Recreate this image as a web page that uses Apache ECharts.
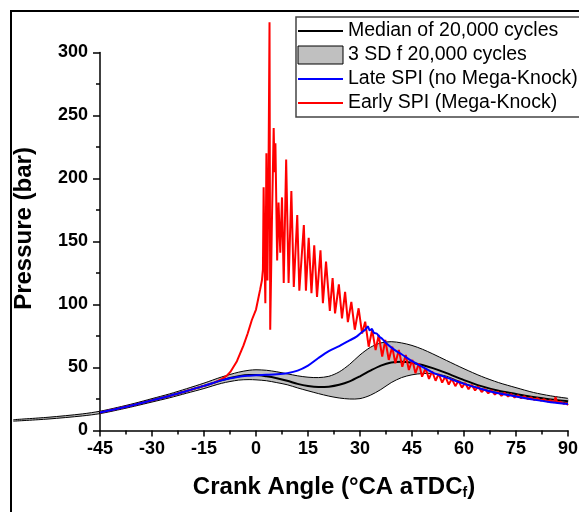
<!DOCTYPE html>
<html>
<head>
<meta charset="utf-8">
<script src="https://cdn.jsdelivr.net/npm/echarts@6/dist/echarts.min.js"></script>
<style>html,body{margin:0;padding:0;background:#fff}#c{width:579px;height:512px}</style>
</head>
<body>
<div id="c"></div>
<script>
// Crank angle grid for median / 3 SD band
const bandCA = [-70,-60,-50,-45,-40,-35,-30,-25,-20,-15,-10,-5,-2,0,3,6,9,12,15,18,21,24,27,30,33,36,39,42,45,48,51,55,60,65,70,75,80,85,90];
const medianP = [8.0,9.8,12.4,14.3,17.2,20.4,23.9,27.4,31.4,35.4,39.8,43.0,44.0,44.0,43.0,41.5,39.5,37.0,35.3,34.5,34.8,36.3,39.0,43.0,47.5,51.5,54.0,54.6,53.8,52.0,49.5,45.5,40.0,35.2,31.5,29.0,26.5,24.7,23.3];
const upperP = [8.6,10.5,13.2,15.3,18.3,21.6,25.3,29.0,33.2,37.6,42.4,46.3,47.8,48.2,47.8,46.6,45.0,43.4,42.3,42.0,43.0,46.5,52.5,60.0,66.0,69.5,70.5,69.5,67.5,64.5,60.8,55.5,49.0,43.0,38.0,34.0,30.2,27.5,25.5];
const lowerP = [7.4,9.1,11.6,13.4,16.2,19.3,22.6,25.9,29.6,33.3,37.4,40.0,40.4,40.2,39.5,38.0,36.3,33.8,31.5,29.3,27.3,25.8,25.0,25.3,28.0,32.5,38.0,42.0,44.2,45.2,45.2,43.0,37.5,33.2,30.0,27.5,25.0,23.2,22.0];

// Late SPI (no Mega-Knock): [crank angle, pressure]
const lateSPI = [[-45,14.3],[-40,17.2],[-35,20.4],[-30,23.9],[-25,27.4],[-20,31.4],[-15,35.4],[-10,39.8],[-5,42.6],[-2,43.5],[0,43.9],[3,44.2],[6,44.6],[9,45.5],[12,47.5],[15,51.5],[18,57.5],[21,63],[24,67],[27,71.5],[29,74.5],[30.5,78],[31.5,80],[32.3,82.5],[32.8,79.5],[33.4,80.5],[34,77.5],[34.8,77],[35.6,74.5],[36.5,72.5],[37.5,69.5],[39,66],[40.5,63],[42,60.5],[45,55],[48,50.5],[51,46],[55,42],[60,37],[65,33],[70,29.5],[75,27],[80,24.5],[85,22.5],[90,21]];

// Early SPI (Mega-Knock): [crank angle, pressure]
const earlySPI = [[-45,14.3],[-40,17.2],[-35,20.4],[-30,23.9],[-25,27.4],[-20,31.4],[-15,35.4],[-12,38.0],[-9.8,41.0],[-8.5,43.3],[-7.4,46.5],[-5.5,55],[-3.6,67.5],[-2.4,77],[-1.2,87.7],[0,96],[0.6,104],[1.2,112],[1.7,119],[2.0,128],[2.2,193],[2.5,130],[2.7,101],[3.0,220],[3.3,119],[3.6,200],[3.9,324],[4.1,80],[4.6,167],[5.1,240],[5.35,205],[5.6,228],[6.1,135],[6.5,181],[7.0,141],[7.5,185],[8.0,117],[8.7,215],[9.4,117],[10.2,190],[10.9,114],[11.9,171],[12.5,111],[13.8,163],[14.4,111],[15.2,153],[16.0,109],[16.8,147],[17.6,106],[18.6,143],[19.3,101],[20.2,134],[21.3,95],[22.1,121],[22.8,93],[23.9,116],[24.8,89],[25.7,110],[26.5,86],[27.5,102],[28.5,80],[29.6,97],[30.6,77],[31.5,86.4],[32.5,66.5],[33.5,79.8],[34.5,63.9],[35.4,75.8],[36.4,58.6],[37.3,71.8],[38.3,56],[39.3,66.5],[40.2,53.3],[41.2,63.9],[42.2,50.6],[43.2,59.9],[44.1,48],[45.1,56],[46.0,45.4],[47.0,53.3],[47.9,42.7],[48.9,49.4],[49.9,41.0],[50.8,47.0],[51.8,39.5],[52.7,45.0],[53.7,38.0],[54.6,43.0],[55.6,36.5],[56.5,41.0],[57.5,35.2],[58.4,39.5],[59.4,34.0],[60.3,37.8],[61.3,32.8],[62.2,36.3],[63.2,31.8],[64.1,35.0],[65.1,30.5],[66.0,33.0],[67.0,29.5],[67.9,32.0],[68.9,28.5],[69.8,30.8],[70.8,27.6],[71.7,30.0],[72.7,26.9],[73.6,29.0],[74.6,26.2],[75.5,28.0],[76.5,25.6],[77.4,27.2],[78.4,25.0],[79.3,26.3],[80.3,24.3],[81.2,25.6],[82.2,23.7],[83.1,24.8],[84.1,23.0],[85.0,24.0],[86.0,22.4],[86.4,26.5],[86.9,22.0],[87.9,22.8],[88.8,21.2],[89.5,21.8],[90.0,20.2]];

const xTicks = {min: -45, max: 90, step: 15};
const yTicks = {min: 0, max: 300, step: 50};

const names = ['Median of 20,000 cycles', '3 SD f 20,000 cycles', 'Late SPI (no Mega-Knock)', 'Early SPI (Mega-Knock)'];

const FONT = 'Liberation Sans, Arial, Helvetica, sans-serif';
const bandData = bandCA.map((x, i) => [x, lowerP[i], upperP[i]]);
const medianData = bandCA.map((x, i) => [x, medianP[i]]);

function renderBand(params, api) {
  if (params.dataIndex !== 0) return null;
  const up = bandCA.map((x, i) => api.coord([x, upperP[i]]));
  const lo = bandCA.map((x, i) => api.coord([x, lowerP[i]]));
  const poly = up.concat(lo.slice().reverse());
  return {
    type: 'group',
    children: [
      {type: 'polygon', shape: {points: poly, smooth: 0.3}, style: {fill: '#c0c0c0', stroke: null}},
      {type: 'polyline', shape: {points: up, smooth: 0.3}, style: {fill: null, stroke: '#000', lineWidth: 1}},
      {type: 'polyline', shape: {points: lo, smooth: 0.3}, style: {fill: null, stroke: '#000', lineWidth: 1}}
    ]
  };
}

const chart = echarts.init(document.getElementById('c'), null, {renderer: 'canvas'});
chart.setOption({
  animation: false,
  backgroundColor: '#fff',
  graphic: [{
    type: 'rect', z: -10, silent: true,
    shape: {x: 11, y: 11, width: 700, height: 700},
    style: {fill: null, stroke: '#000', lineWidth: 2}
  }],
  grid: {left: 100, right: 11, top: 52.5, bottom: 81.5, containLabel: false, outerBoundsMode: 'none'},
  legend: {
    orient: 'vertical', left: 296, top: 17,
    padding: [4, 12, 4, 1],
    itemWidth: 45, itemHeight: 18, itemGap: 4,
    borderColor: '#444', borderWidth: 1.5, backgroundColor: '#fff',
    textStyle: {fontFamily: FONT, fontSize: 19.5, color: '#000'},
    selectedMode: false,
    data: [
      {name: names[0], itemStyle: {opacity: 0}},
      {name: names[1], icon: 'rect', itemStyle: {color: '#c0c0c0', borderColor: '#000', borderWidth: 1}},
      {name: names[2], itemStyle: {opacity: 0}},
      {name: names[3], itemStyle: {opacity: 0}}
    ]
  },
  xAxis: {
    type: 'value', min: xTicks.min, max: xTicks.max, interval: xTicks.step,
    name: '{a|Crank Angle (°CA aTDC}{s|f}{a|)}',
    nameLocation: 'middle', nameGap: 44,
    nameTextStyle: {
      rich: {
        a: {fontFamily: FONT, fontSize: 24, fontWeight: 'bold', color: '#000'},
        s: {fontFamily: FONT, fontSize: 14, fontWeight: 'bold', color: '#000', padding: [12, 0, 0, 0]}
      }
    },
    axisLine: {onZero: false, lineStyle: {color: '#000', width: 1.5}},
    axisTick: {inside: false, length: 6, lineStyle: {color: '#000', width: 1.5}},
    minorTick: {show: true, splitNumber: 2, length: 4, lineStyle: {color: '#000', width: 1.5}},
    splitLine: {show: false},
    axisLabel: {fontFamily: FONT, fontSize: 18, fontWeight: 'bold', color: '#000', margin: 10}
  },
  yAxis: {
    type: 'value', min: yTicks.min, max: yTicks.max, interval: yTicks.step,
    name: 'Pressure (bar)',
    nameLocation: 'middle', nameGap: 64,
    nameTextStyle: {fontFamily: FONT, fontSize: 24, fontWeight: 'bold', color: '#000', padding: [0, 0, 0, 26]},
    axisLine: {show: true, onZero: false, lineStyle: {color: '#000', width: 1.5}},
    axisTick: {show: true, inside: false, length: 7, lineStyle: {color: '#000', width: 1.5}},
    minorTick: {show: true, splitNumber: 2, length: 4, lineStyle: {color: '#000', width: 1.5}},
    splitLine: {show: false},
    axisLabel: {fontFamily: FONT, fontSize: 18, fontWeight: 'bold', color: '#000', margin: 12}
  },
  series: [
    {
      name: names[1], type: 'custom', data: bandData, renderItem: renderBand,
      clip: false, silent: true, z: 1, color: '#c0c0c0',
      encode: {x: 0, y: [1, 2]}
    },
    {
      name: names[0], type: 'line', data: medianData, smooth: 0.3,
      symbol: 'none', clip: false, silent: true, z: 2,
      color: '#000', lineStyle: {color: '#000', width: 2}
    },
    {
      name: names[3], type: 'line', data: earlySPI, smooth: false,
      symbol: 'none', clip: false, silent: true, z: 3,
      color: '#ff0000', lineStyle: {color: '#ff0000', width: 2}
    },
    {
      name: names[2], type: 'line', data: lateSPI, smooth: 0.3,
      symbol: 'none', clip: false, silent: true, z: 4,
      color: '#0000ff', lineStyle: {color: '#0000ff', width: 2}
    }
  ]
});
</script>
</body>
</html>
